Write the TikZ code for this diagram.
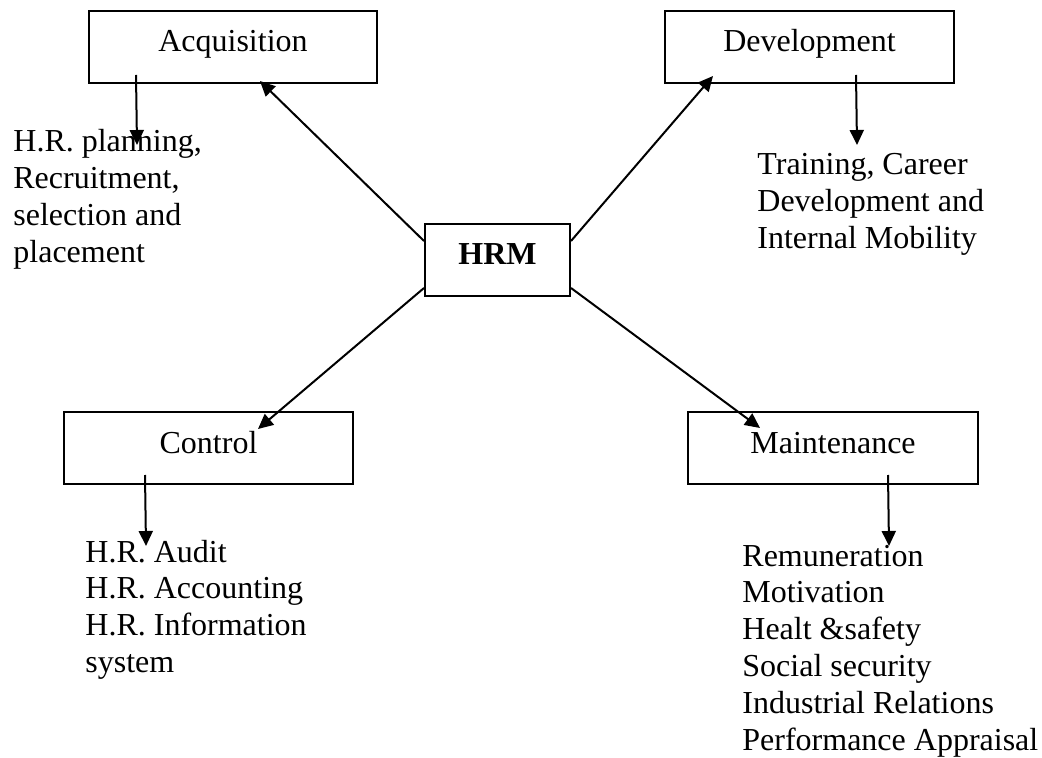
\documentclass[tikz,border=0pt]{standalone}
\usepackage{fontspec}
\setmainfont{Liberation Serif}
\usetikzlibrary{arrows.meta,calc}

\newcommand{\itemlist}[1]{\begin{tabular}[t]{@{}l@{}}#1\end{tabular}}

\tikzset{
  box/.style={draw, line width=1pt, rectangle, inner sep=0pt,
    minimum height=36pt, text height=11pt, text depth=6pt,
    font=\fontsize{16}{18.4}\selectfont},
  listtext/.style={anchor=base west, inner sep=0pt, align=left,
    font=\fontsize{16}{18.4}\selectfont},
  link/.style={line width=1pt, -{Triangle[length=7.5pt,width=7pt]}},
}

\begin{document}
\begin{tikzpicture}[x=0.5pt, y=-0.5pt]
  \useasboundingbox (0,0) rectangle (1042,758);

  % central function and the four areas
  \node[box, minimum width=72.5pt, font=\fontsize{16}{18.4}\selectfont\bfseries] (hrm) at (497.5,260) {HRM};
  \node[box, minimum width=144pt]   (acq) at (233,47)    {Acquisition};
  \node[box, minimum width=144.5pt] (dev) at (809.5,47)  {Development};
  \node[box, minimum width=144.5pt] (ctl) at (208.5,448) {Control};
  \node[box, minimum width=145pt]   (mnt) at (833,448)   {Maintenance};

  % activities under each area
  \node[listtext] (acqtxt) at (13,152)
    {\itemlist{H.R. planning,\\Recruitment,\\selection and\\placement}};
  \node[listtext] (devtxt) at (757,175)
    {\itemlist{Training, Career\\Development and\\Internal Mobility}};
  \node[listtext] (ctltxt) at (85,562)
    {\itemlist{H.R. Audit\\H.R. Accounting\\H.R. Information\\system}};
  \node[listtext] (mnttxt) at (742,566)
    {\itemlist{Remuneration\\Motivation\\Healt \&safety\\Social security\\Industrial Relations\\Performance Appraisal}};

  % arrow ends over the activity lists
  \coordinate (acqend) at (137,145);
  \coordinate (devend) at (857,145);
  \coordinate (ctlend) at (146,546);
  \coordinate (mntend) at (889,546);

  % HRM to the four areas
  \draw[link] ($(hrm.north west)+(0,18)$) -- ($(acq.south)+(27,-3)$);
  \draw[link] ($(hrm.north east)+(0,18)$) -- ($(dev.south)+(-96.5,-8)$);
  \draw[link] ($(hrm.south west)+(0,-9)$) -- ($(ctl.north)+(49.5,18)$);
  \draw[link] ($(hrm.south east)+(0,-9)$) -- ($(mnt.north)+(-73,17)$);

  % areas to their activities
  \draw[link] ($(acq.south west)+(48,-9)$) -- (acqend);
  \draw[link] ($(dev.south west)+(192,-9)$) -- (devend);
  \draw[link] ($(ctl.south west)+(82,-10)$) -- (ctlend);
  \draw[link] ($(mnt.south west)+(201,-10)$) -- (mntend);
\end{tikzpicture}
\end{document}
